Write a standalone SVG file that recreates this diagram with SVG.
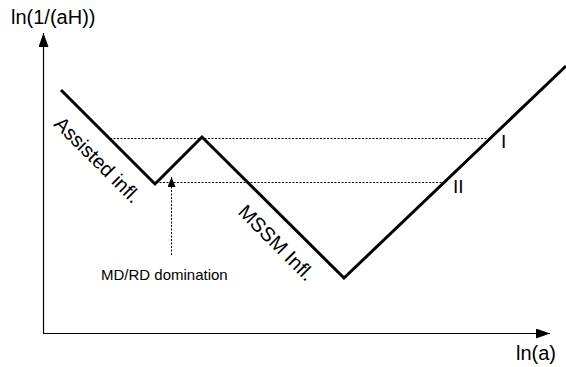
<svg xmlns="http://www.w3.org/2000/svg" width="566" height="367" viewBox="0 0 566 367">
<style>
text{font-family:"Liberation Sans",Arial,sans-serif;fill:#000}
.axis{stroke:#000;stroke-width:1.2;fill:none}
.curve{stroke:#000;stroke-width:3;fill:none;stroke-linejoin:miter}
.dot{stroke:#000;stroke-width:1;stroke-dasharray:2,1.5;fill:none}
</style>
<defs>
<marker id="ah" viewBox="0 0 14 10" refX="14" refY="5" markerWidth="14" markerHeight="10" markerUnits="userSpaceOnUse" orient="auto">
<path d="M0,0 L14,5 L0,10 Z" fill="#000"/>
</marker>
<marker id="ahs" viewBox="0 0 10 8" refX="10" refY="4" markerWidth="10" markerHeight="8" markerUnits="userSpaceOnUse" orient="auto">
<path d="M0,0 L10,4 L0,8 Z" fill="#000"/>
</marker>
</defs>
<g id="axes">
<line class="axis" x1="43.5" y1="333.5" x2="43.5" y2="33" marker-end="url(#ah)"/>
<line class="axis" x1="43" y1="333.5" x2="550" y2="333.5" marker-end="url(#ah)"/>
<text x="11" y="24" font-size="20">ln(1/(aH))</text>
<text x="516" y="360" font-size="20">ln(a)</text>
</g>
<g id="connectors">
<line class="dot" x1="110" y1="138.5" x2="490" y2="138.5"/>
<line class="dot" x1="156" y1="182.5" x2="444" y2="182.5"/>
<line class="dot" x1="171.5" y1="255" x2="171.5" y2="177" marker-end="url(#ahs)"/>
</g>
<g id="curve">
<polyline class="curve" points="61,90 155,184 202,137 344,278 566,66"/>
</g>
<g id="labels">
<text transform="translate(53,125) rotate(45)" font-size="20">Assisted infl.</text>
<text transform="translate(237,213) rotate(45)" font-size="20">MSSM Infl.</text>
<text x="501" y="148" font-size="19">I</text>
<text x="453" y="193" font-size="19">II</text>
<text x="101" y="280" font-size="15">MD/RD domination</text>
</g>
</svg>
